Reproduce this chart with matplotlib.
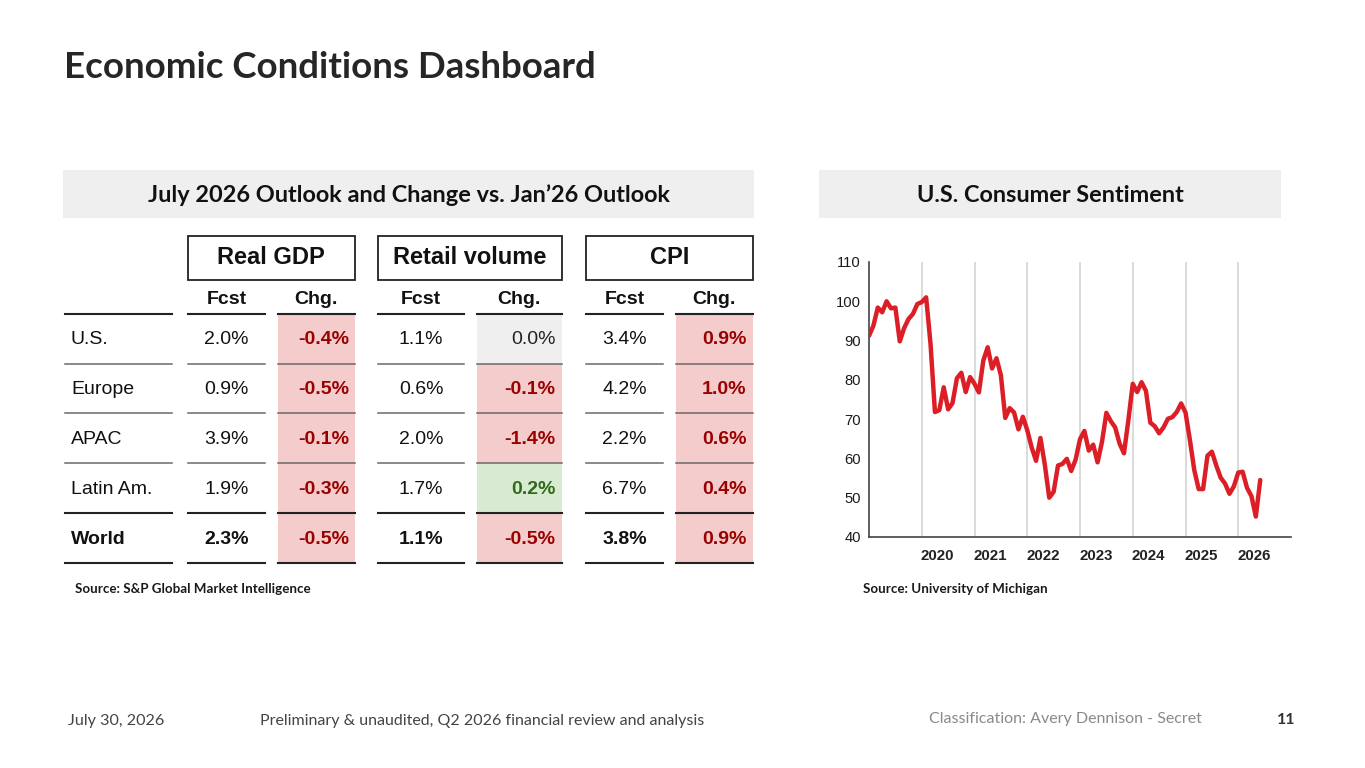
import matplotlib.pyplot as plt
import numpy as np
from matplotlib.patches import Rectangle

# ---- table data ----
regions = ['U.S.', 'Europe', 'APAC', 'Latin Am.', 'World']
groups = ['Real GDP', 'Retail volume', 'CPI']
gdp_fcst = ['2.0%', '0.9%', '3.9%', '1.9%', '2.3%']
gdp_chg = ['-0.4%', '-0.5%', '-0.1%', '-0.3%', '-0.5%']
retail_fcst = ['1.1%', '0.6%', '2.0%', '1.7%', '1.1%']
retail_chg = ['0.0%', '-0.1%', '-1.4%', '0.2%', '-0.5%']
cpi_fcst = ['3.4%', '4.2%', '2.2%', '6.7%', '3.8%']
cpi_chg = ['0.9%', '1.0%', '0.6%', '0.4%', '0.9%']
# cell shading: 'bad' red, 'good' green, 'flat' gray
gdp_tone = ['bad', 'bad', 'bad', 'bad', 'bad']
retail_tone = ['flat', 'bad', 'bad', 'good', 'bad']
cpi_tone = ['bad', 'bad', 'bad', 'bad', 'bad']

# ---- consumer sentiment, monthly Jan 2019 .. Jun 2026 ----
sentiment = [
    91.2, 93.8, 98.4, 97.2, 100.0, 98.2, 98.4, 89.8, 93.2, 95.5, 96.8, 99.3,   # 2019
    99.8, 101.0, 89.1, 71.8, 72.3, 78.1, 72.5, 74.1, 80.4, 81.8, 76.9, 80.7,   # 2020
    79.0, 76.8, 84.9, 88.3, 82.9, 85.5, 81.2, 70.3, 72.8, 71.7, 67.4, 70.6,    # 2021
    67.2, 62.8, 59.4, 65.2, 58.4, 50.0, 51.5, 58.2, 58.6, 59.9, 56.8, 59.7,    # 2022
    64.9, 67.0, 62.0, 63.5, 59.0, 64.2, 71.6, 69.5, 67.9, 63.8, 61.3, 69.7,    # 2023
    79.0, 76.9, 79.4, 77.2, 69.1, 68.2, 66.4, 67.9, 70.1, 70.5, 71.8, 74.0,    # 2024
    71.7, 64.7, 57.0, 52.2, 52.2, 60.7, 61.7, 58.2, 55.1, 53.6, 51.0, 52.9,    # 2025
    56.4, 56.6, 52.5, 50.4, 45.2, 54.5,                                        # 2026
]
years = [2020, 2021, 2022, 2023, 2024, 2025, 2026]
dates = 2019 + np.arange(len(sentiment)) / 12.0

W, H = 1365, 768
fig = plt.figure(figsize=(W / 100, H / 100), dpi=100)
bg = fig.add_axes([0, 0, 1, 1])
bg.set_xlim(0, W)
bg.set_ylim(H, 0)
bg.axis('off')

ui = ['Lato', 'DejaVu Sans']
tab = ['Liberation Sans', 'DejaVu Sans']

bg.text(64, 68, 'Economic Conditions Dashboard', fontsize=26.4, fontweight='bold',
        family=ui, color='#262626', va='center', ha='left')

# panel headers
for x0, x1, label in [(63, 754, 'July 2026 Outlook and Change vs. Jan\u201926 Outlook'),
                      (819, 1281, 'U.S. Consumer Sentiment')]:
    bg.add_patch(Rectangle((x0, 170), x1 - x0, 48, color='#efefef', lw=0))
    bg.text((x0 + x1) / 2, 195.5, label, fontsize=16.9, fontweight='bold', family=ui,
            color='#111111', ha='center', va='center')

# ---- table ----
row_y = [339, 389, 439, 489, 539]
row_lines = [364, 413, 463, 513, 563]
fills = {'bad': '#f4cccc', 'good': '#d9ead3', 'flat': '#efefef'}
txtc = {'bad': '#990000', 'good': '#2f6b1a', 'flat': '#222222'}
cols = [
    # box x0, box x1, fcst span, chg span, fcst, chg, tone
    (187.7, 355, (187.7, 265), (277.7, 355), gdp_fcst, gdp_chg, gdp_tone),
    (378.3, 561.7, (378.3, 464), (476.7, 561.7), retail_fcst, retail_chg, retail_tone),
    (586, 752.7, (586, 662.7), (675.7, 752.7), cpi_fcst, cpi_chg, cpi_tone),
]

for gname, (b0, b1, fs, cs, fvals, cvals, tones) in zip(groups, cols):
    bg.add_patch(Rectangle((b0, 236), b1 - b0, 44, fill=False, ec='#222222', lw=1.3))
    bg.text((b0 + b1) / 2, 258, gname, fontsize=17, fontweight='bold', family=tab,
            ha='center', va='center', color='#111111')
    bg.text((fs[0] + fs[1]) / 2, 300, 'Fcst', fontsize=14, fontweight='bold', family=tab,
            ha='center', va='center', color='#111111')
    bg.text((cs[0] + cs[1]) / 2, 300, 'Chg.', fontsize=14, fontweight='bold', family=tab,
            ha='center', va='center', color='#111111')
    for i in range(5):
        top = 314 if i == 0 else row_lines[i - 1]
        bg.add_patch(Rectangle((cs[0], top), cs[1] - cs[0], row_lines[i] - top,
                               color=fills[tones[i]], lw=0, zorder=1))
        bold = 'bold' if (i == 4 or tones[i] != 'flat') else 'normal'
        bg.text((fs[0] + fs[1]) / 2, row_y[i], fvals[i], fontsize=14, family=tab,
                fontweight='bold' if i == 4 else 'normal', ha='center', va='center',
                color='#111111', zorder=3)
        bg.text(cs[1] - 6, row_y[i], cvals[i], fontsize=14, family=tab, fontweight=bold,
                ha='right', va='center', color=txtc[tones[i]], zorder=3)
    for span in (fs, cs):
        bg.plot(span, [314, 314], color='#222222', lw=1.5, zorder=4)
        for j, ly in enumerate(row_lines):
            dark = j >= 3
            bg.plot(span, [ly, ly], color='#222222' if dark else '#6a6a6a',
                    lw=1.5 if dark else 1.1, zorder=4)

# region labels
bg.plot([65, 172], [314, 314], color='#222222', lw=1.5)
for j, ly in enumerate(row_lines):
    dark = j >= 3
    bg.plot([65, 172], [ly, ly], color='#222222' if dark else '#6a6a6a',
            lw=1.5 if dark else 1.1)
for i, r in enumerate(regions):
    bg.text(71, row_y[i], r, fontsize=14, family=tab, ha='left', va='center',
            fontweight='bold' if i == 4 else 'normal', color='#111111')

bg.text(75, 589, 'Source: S&P Global Market Intelligence', fontsize=9.6, fontweight='bold',
        family=ui, color='#1a1a1a', va='center')
bg.text(863, 589, 'Source: University of Michigan', fontsize=9.6, fontweight='bold',
        family=ui, color='#1a1a1a', va='center')

# ---- line chart ----
ax = fig.add_axes([869 / W, (H - 537) / H, 422 / W, 275 / H])
ax.set_xlim(2019, 2027)
ax.set_ylim(40, 110)
for yr in years:
    ax.axvline(yr, color='#d4d4d4', lw=1.2, zorder=1)
ax.plot(dates, sentiment, color='#dc1f26', lw=3.2, solid_joinstyle='round',
        solid_capstyle='round', zorder=3)
ax.set_yticks(range(40, 111, 10))
ax.set_xticks([y + 0.3 for y in years])
ax.set_xticklabels([str(y) for y in years], family=tab, fontweight='bold',
                   fontsize=10.8, color='#222222')
for lab in ax.get_yticklabels():
    lab.set_family(tab)
    lab.set_fontsize(10.6)
    lab.set_color('#1a1a1a')
ax.tick_params(axis='both', length=0, pad=6)
ax.tick_params(axis='x', pad=9)
for s in ('top', 'right'):
    ax.spines[s].set_visible(False)
for s in ('left', 'bottom'):
    ax.spines[s].set_color('#444444')
    ax.spines[s].set_linewidth(1.2)
ax.set_facecolor('none')

# ---- footer ----
bg.text(68, 721, 'July 30, 2026', fontsize=11.6, family=ui, color='#444444', va='center')
bg.text(260, 721, 'Preliminary & unaudited, Q2 2026 financial review and analysis',
        fontsize=11.5, family=ui, color='#444444', va='center')
bg.text(929, 719, 'Classification: Avery Dennison - Secret', fontsize=11.5, family=ui,
        color='#8a8a8a', va='center')
bg.text(1295, 720, '11', fontsize=11.5, family=ui, fontweight='bold', color='#333333',
        va='center', ha='right')

fig.savefig('out.png', dpi=100)
